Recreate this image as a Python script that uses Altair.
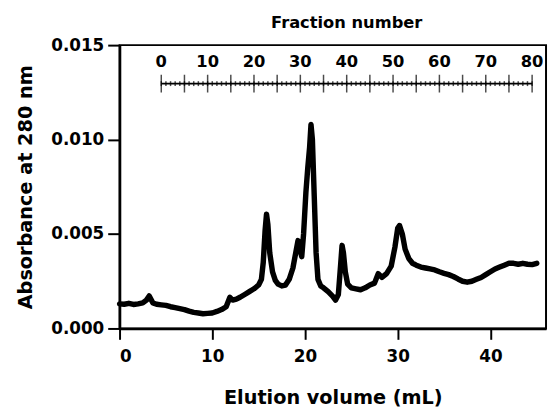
import altair as alt
import pandas as pd

# Elution volume (mL) and absorbance at 280 nm
volume = [0, 0.5, 1, 1.5, 2, 2.5, 2.9, 3.2, 3.6, 4, 4.5, 5, 5.5, 6, 6.5, 7, 7.5, 8,
          8.5, 9, 9.5, 10, 10.5, 11, 11.5, 11.9, 12.2, 12.6, 13, 13.5, 14, 14.5, 15,
          15.3, 15.5, 15.7, 15.85, 16.0, 16.2, 16.5, 16.8, 17.1, 17.5, 17.9, 18.3,
          18.7, 19.0, 19.25, 19.45, 19.65, 19.85, 20.1, 20.3, 20.5, 20.65, 20.8,
          21.0, 21.2, 21.4, 21.7, 22.0, 22.5, 23.0, 23.3, 23.6, 23.85, 24.0, 24.15,
          24.35, 24.6, 25.0, 25.5, 26, 26.5, 27, 27.5, 27.9, 28.3, 28.8, 29.3, 29.7,
          30.0, 30.2, 30.5, 30.8, 31.2, 31.6, 32, 32.5, 33, 33.5, 34, 34.5, 35, 35.5,
          36, 36.5, 37, 37.5, 38, 38.5, 39, 39.5, 40, 40.5, 41, 41.5, 42, 42.5, 43,
          43.5, 44, 44.5, 45]
absorbance = [0.00130, 0.00128, 0.00133, 0.00127, 0.00130, 0.00135, 0.00150, 0.00172,
              0.00135, 0.00128, 0.00125, 0.00122, 0.00115, 0.00110, 0.00105, 0.00100,
              0.00092, 0.00085, 0.00082, 0.00078, 0.00080, 0.00082, 0.00090, 0.00100,
              0.00115, 0.00165, 0.00150, 0.00155, 0.00165, 0.00180, 0.00195, 0.00210,
              0.00230, 0.00260, 0.00350, 0.00520, 0.00605, 0.00550, 0.00400, 0.00300,
              0.00255, 0.00235, 0.00225, 0.00230, 0.00260, 0.00320, 0.00400, 0.00465,
              0.00420, 0.00380, 0.00500, 0.00720, 0.00850, 0.00960, 0.01080, 0.01000,
              0.00700, 0.00400, 0.00260, 0.00225, 0.00215, 0.00195, 0.00170, 0.00150,
              0.00180, 0.00340, 0.00440, 0.00400, 0.00300, 0.00235, 0.00215, 0.00210,
              0.00205, 0.00215, 0.00230, 0.00240, 0.00290, 0.00270, 0.00290, 0.00330,
              0.00430, 0.00530, 0.00545, 0.00500, 0.00420, 0.00370, 0.00345, 0.00335,
              0.00325, 0.00320, 0.00315, 0.00310, 0.00300, 0.00292, 0.00285, 0.00275,
              0.00262, 0.00250, 0.00245, 0.00250, 0.00260, 0.00270, 0.00285, 0.00300,
              0.00315, 0.00325, 0.00335, 0.00345, 0.00345, 0.00340, 0.00345, 0.00340,
              0.00338, 0.00345]

x_ticks = [0, 10, 20, 30, 40]
y_ticks = [0.0, 0.005, 0.010, 0.015]

# Fraction number scale (0.5 mL fractions starting at 4.5 mL)
fraction_labels = [0, 10, 20, 30, 40, 50, 60, 70, 80]
fraction_major = list(range(0, 81, 5))
fraction_minor = list(range(0, 81, 1))
frac_start_ml = 4.5
frac_size_ml = 0.5

FONT = "DejaVu Sans"

trace = pd.DataFrame({"vol": volume, "abs": absorbance})
xscale = alt.Scale(domain=[0, 46], nice=False, zero=False)
yscale = alt.Scale(domain=[0, 0.015], nice=False)

line = alt.Chart(trace).mark_line(color="black", strokeWidth=5.5, strokeCap="round",
                                  strokeJoin="round").encode(
    x=alt.X("vol:Q", scale=xscale,
            axis=alt.Axis(values=x_ticks, title="Elution volume (mL)", format="d",
                          titleBaseline="alphabetic", titleY=76, labelPadding=9)),
    y=alt.Y("abs:Q", scale=yscale,
            axis=alt.Axis(values=y_ticks, title="Absorbance at 280 nm", format=".3f",
                          titleBaseline="alphabetic", titleX=-89)),
)

frac_df = pd.DataFrame({"frac": fraction_minor})
frac_df["vol"] = frac_start_ml + frac_size_ml * frac_df["frac"]
major_df = pd.DataFrame({"frac": fraction_major})
major_df["vol"] = frac_start_ml + frac_size_ml * major_df["frac"]
lab_df = pd.DataFrame({"frac": fraction_labels})
lab_df["vol"] = frac_start_ml + frac_size_ml * lab_df["frac"]
lab_df["label"] = lab_df["frac"].astype(str)

frac_line = alt.Chart(pd.DataFrame({"a": [frac_start_ml], "b": [frac_start_ml + 80 * frac_size_ml]})).mark_rule(
    color="black", strokeWidth=2).encode(
    x=alt.X("a:Q", scale=xscale), x2="b:Q", y=alt.value(39))

minor_ticks = alt.Chart(frac_df).mark_tick(color="black", orient="vertical", size=5,
                                           thickness=1.5).encode(
    x=alt.X("vol:Q", scale=xscale), y=alt.value(39))

major_ticks = alt.Chart(major_df).mark_tick(color="black", orient="vertical", size=18,
                                            thickness=1.5).encode(
    x=alt.X("vol:Q", scale=xscale), y=alt.value(39))

frac_text = alt.Chart(lab_df).mark_text(font=FONT, fontSize=16.5, fontWeight="bold",
                                        baseline="alphabetic", align="center",
                                        color="black").encode(
    x=alt.X("vol:Q", scale=xscale), y=alt.value(22), text="label:N")

frac_title = alt.Chart(pd.DataFrame({"v": [frac_start_ml + 40 * frac_size_ml],
                                     "t": ["Fraction number"]})).mark_text(
    font=FONT, fontSize=16.5, fontWeight="bold", baseline="alphabetic", align="center",
    color="black").encode(x=alt.X("v:Q", scale=xscale), y=alt.value(-17), text="t:N")

chart = alt.layer(line, frac_line, minor_ticks, major_ticks, frac_text, frac_title).properties(
    width=432, height=287,
    autosize=alt.AutoSizeParams(type="none"),
    padding={"left": 113, "top": 35, "right": 2, "bottom": 80},
    background="white",
).configure_view(stroke="black", strokeWidth=2).configure_axis(
    domainColor="black", domainWidth=2.5, tickColor="black", tickWidth=2,
    tickSize=11, labelPadding=6, labelFont=FONT, labelFontSize=17,
    labelFontWeight="bold", labelColor="black", titleFont=FONT, titleFontSize=19.5,
    titleFontWeight="bold", titleColor="black", grid=False,
).configure_axisY(tickSize=12, labelPadding=4)

chart.save("out.html", embed_options={"renderer": "svg", "actions": False})
